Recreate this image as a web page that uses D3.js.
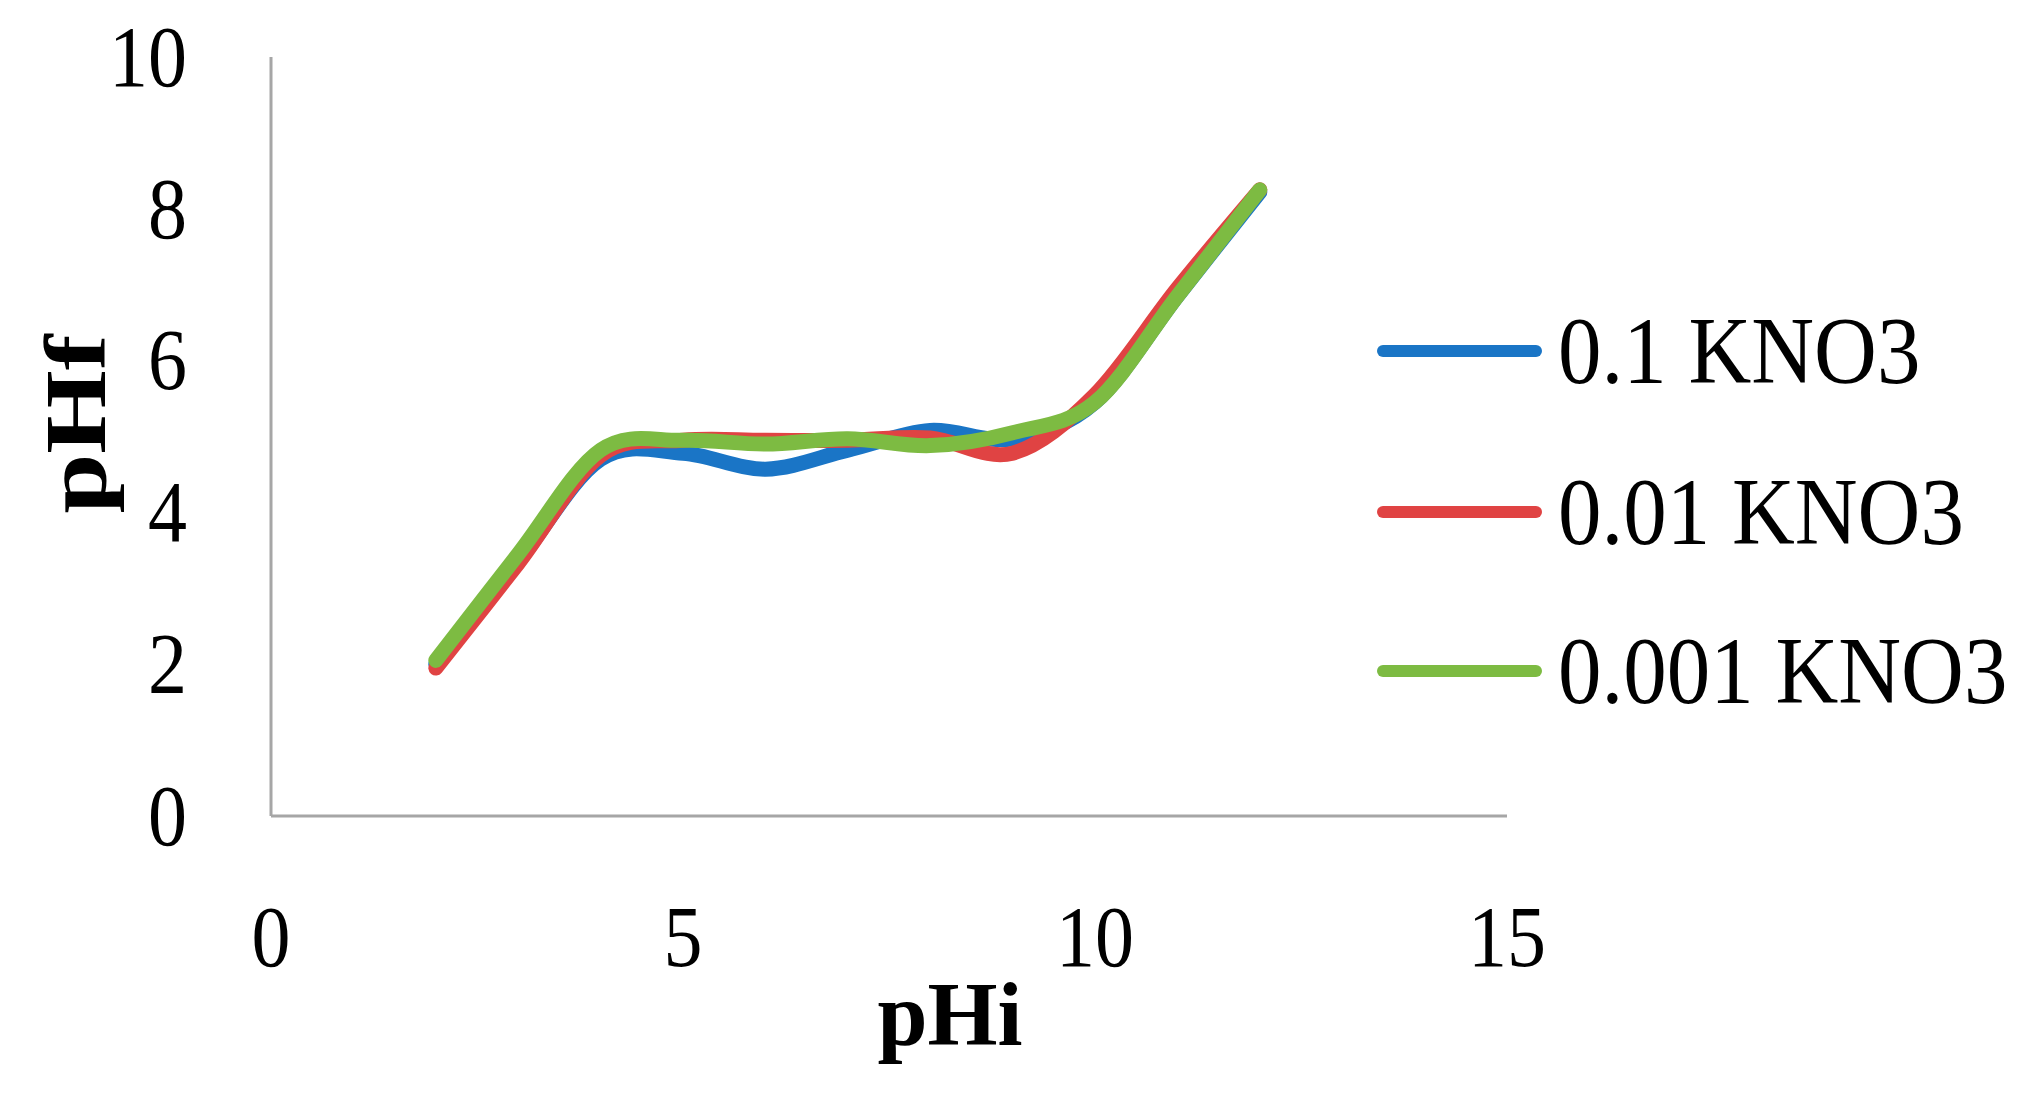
<!DOCTYPE html>
<html>
<head>
<meta charset="utf-8">
<script src="https://cdn.jsdelivr.net/npm/d3@7/dist/d3.min.js"></script>
<style>
  html, body { margin: 0; padding: 0; background: #ffffff; }
  svg { display: block; }
  text { font-family: "Liberation Serif", "DejaVu Serif", serif; fill: #000; }
</style>
</head>
<body>
<svg id="chart" width="2022" height="1099"></svg>
<script>
// ---- data ----
const pHi = [2, 3, 4, 5, 6, 7, 8, 9, 10, 11, 12];
const seriesNames = ["0.1 KNO3", "0.01 KNO3", "0.001 KNO3"];
const kno3_01   = [2.0, 3.35, 4.7, 4.78, 4.57, 4.82, 5.08, 4.97, 5.45, 6.85, 8.22];
const kno3_001  = [1.95, 3.33, 4.75, 4.95, 4.95, 4.95, 4.98, 4.78, 5.55, 6.95, 8.25];
const kno3_0001 = [2.05, 3.45, 4.82, 4.95, 4.9, 4.97, 4.88, 5.05, 5.45, 6.85, 8.25];
const xTicks = [0, 5, 10, 15];
const yTicks = [0, 2, 4, 6, 8, 10];
const colors = ["#1a75c6", "#e04343", "#7dbb42"];

const svg = d3.select("#chart");
const x = d3.scaleLinear().domain([0, 15]).range([271, 1507]);
const y = d3.scaleLinear().domain([0, 10]).range([816, 57]);

// axes lines
const axisColor = "#a6a6a6";
svg.append("line").attr("x1", x(0)).attr("x2", x(0)).attr("y1", y(10)).attr("y2", y(0))
  .attr("stroke", axisColor).attr("stroke-width", 3);
svg.append("line").attr("x1", x(0)).attr("x2", x(15)).attr("y1", y(0)).attr("y2", y(0))
  .attr("stroke", axisColor).attr("stroke-width", 3);

// y tick labels
svg.append("g").selectAll("text").data(yTicks).join("text")
  .attr("transform", d => `translate(187,${y(d)}) scale(1,1.1)`)
  .attr("text-anchor", "end").attr("dominant-baseline", "central")
  .attr("font-size", 78).text(d => d);

// x tick labels
svg.append("g").selectAll("text").data(xTicks).join("text")
  .attr("transform", d => `translate(${x(d)},966) scale(1,1.1)`)
  .attr("text-anchor", "middle")
  .attr("font-size", 78).text(d => d);

// axis titles
svg.append("text").attr("x", 950).attr("y", 1045).attr("text-anchor", "middle")
  .attr("font-size", 90).attr("font-weight", "bold").text("pHi");
svg.append("text").attr("transform", "translate(105,424) rotate(-90) scale(1.25,1)")
  .attr("text-anchor", "middle").attr("font-size", 86).attr("font-weight", "bold").text("pHf");

// lines
const line = d3.line().x((d, i) => x(pHi[i])).y(d => y(d)).curve(d3.curveCardinal.tension(0));
const allSeries = [kno3_01, kno3_001, kno3_0001];
svg.append("g").selectAll("path").data(allSeries).join("path")
  .attr("d", d => line(d))
  .attr("fill", "none")
  .attr("stroke", (d, i) => colors[i])
  .attr("stroke-width", 15)
  .attr("stroke-linecap", "round")
  .attr("stroke-linejoin", "round");

// legend
const legendY = [351, 512, 671];
const lg = svg.append("g").selectAll("g").data(seriesNames).join("g")
  .attr("transform", (d, i) => `translate(0,${legendY[i]})`);
lg.append("line").attr("x1", 1383).attr("x2", 1536).attr("y1", 0).attr("y2", 0)
  .attr("stroke", (d, i) => colors[i]).attr("stroke-width", 12).attr("stroke-linecap", "round");
lg.append("text").attr("transform", "translate(1558,0) scale(1,1.1)").attr("dominant-baseline", "central")
  .attr("font-size", 87).text(d => d);
</script>
</body>
</html>
